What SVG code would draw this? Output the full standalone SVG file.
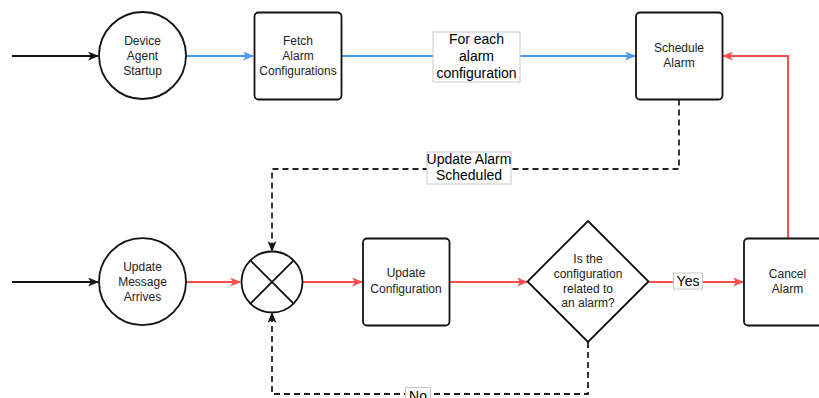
<svg xmlns="http://www.w3.org/2000/svg" width="819" height="398" viewBox="0 0 819 398">
<style>
.node{fill:#fff;stroke:#111;stroke-width:1.8}
.nt{font-family:"Liberation Sans",Arial,sans-serif;font-size:12px;fill:#222;text-anchor:middle}
.lt{font-family:"Liberation Sans",Arial,sans-serif;font-size:14px;fill:#000;text-anchor:middle}
.lb{fill:#fff;stroke:#c8c8c8;stroke-width:1}
.blk{fill:none;stroke:#111;stroke-width:1.8}
.blue{fill:none;stroke:#4499f0;stroke-width:2}
.red{fill:none;stroke:#ff4d4d;stroke-width:2}
.dash{fill:none;stroke:#222;stroke-width:1.8;stroke-dasharray:6 4}
</style>
<defs>
<marker id="aK" markerWidth="11" markerHeight="9" refX="10" refY="4.5" orient="auto" markerUnits="userSpaceOnUse"><path d="M0,0 L11,4.5 L0,9 L3,4.5 z" fill="#111"/></marker>
<marker id="aB" markerWidth="11" markerHeight="9" refX="10" refY="4.5" orient="auto" markerUnits="userSpaceOnUse"><path d="M0,0 L11,4.5 L0,9 L3,4.5 z" fill="#4499f0"/></marker>
<marker id="aR" markerWidth="11" markerHeight="9" refX="10" refY="4.5" orient="auto" markerUnits="userSpaceOnUse"><path d="M0,0 L11,4.5 L0,9 L3,4.5 z" fill="#ff4d4d"/></marker>
</defs>
<g id="connectors">
<path class="blk" d="M12,56 L98,56" marker-end="url(#aK)"/>
<path class="blue" d="M186,56 L253,56" marker-end="url(#aB)"/>
<path class="blue" d="M342,56 L635,56" marker-end="url(#aB)"/>
<path class="red" d="M788,238 L788,56 L723,56" marker-end="url(#aR)"/>
<path class="dash" d="M679,99.5 L679,169 L272,169 L272,251" marker-end="url(#aK)"/>
<path class="blk" d="M12,282 L98,282" marker-end="url(#aK)"/>
<path class="red" d="M186,282 L240,282" marker-end="url(#aR)"/>
<path class="red" d="M302.5,282 L362,282" marker-end="url(#aR)"/>
<path class="red" d="M449.5,282 L527,282" marker-end="url(#aR)"/>
<path class="red" d="M648.5,282 L743,282" marker-end="url(#aR)"/>
<path class="dash" d="M588,342 L588,394 L272,394 L272,313" marker-end="url(#aK)"/>
<rect class="lb" x="433" y="32" width="87" height="50"/>
<text class="lt" x="476.5" y="44">For each</text>
<text class="lt" x="476.5" y="61">alarm</text>
<text class="lt" x="476.5" y="78">configuration</text>
<rect class="lb" x="427" y="152" width="84" height="32"/>
<text class="lt" x="469" y="164">Update Alarm</text>
<text class="lt" x="469" y="180">Scheduled</text>
<rect class="lb" x="673.5" y="273" width="29" height="16"/>
<text class="lt" x="688" y="286">Yes</text>
<rect class="lb" x="405.5" y="387.5" width="25" height="16"/>
<text class="lt" x="418" y="401">No</text>
</g>
<g id="device-agent-startup">
<circle class="node" cx="142.5" cy="55.5" r="43.5"/>
<text class="nt" x="142.5" y="45">Device</text>
<text class="nt" x="142.5" y="60">Agent</text>
<text class="nt" x="142.5" y="75">Startup</text>
</g>
<g id="fetch-alarm-configurations">
<rect class="node" x="254.5" y="12.5" width="87" height="87" rx="4"/>
<text class="nt" x="298" y="45">Fetch</text>
<text class="nt" x="298" y="60">Alarm</text>
<text class="nt" x="298" y="75">Configurations</text>
</g>
<g id="schedule-alarm">
<rect class="node" x="636" y="12.5" width="86.5" height="87" rx="4"/>
<text class="nt" x="679" y="51.5">Schedule</text>
<text class="nt" x="679" y="66.5">Alarm</text>
</g>
<g id="update-message-arrives">
<circle class="node" cx="142.5" cy="281.7" r="43.5"/>
<text class="nt" x="142.5" y="271">Update</text>
<text class="nt" x="142.5" y="286">Message</text>
<text class="nt" x="142.5" y="301">Arrives</text>
</g>
<g id="merge">
<circle class="node" cx="272" cy="282" r="30.5"/>
<path class="blk" d="M250.4,260.4 L293.6,303.6 M293.6,260.4 L250.4,303.6"/>
</g>
<g id="update-configuration">
<rect class="node" x="363" y="238.5" width="86.5" height="87" rx="4"/>
<text class="nt" x="406" y="277">Update</text>
<text class="nt" x="406" y="292.5">Configuration</text>
</g>
<g id="decision">
<path class="node" d="M588,221 L648.5,281.5 L588,342 L527.5,281.5 Z"/>
<text class="nt" x="588" y="263">Is the</text>
<text class="nt" x="588" y="278">configuration</text>
<text class="nt" x="588" y="292.5">related to</text>
<text class="nt" x="588" y="306.5">an alarm?</text>
</g>
<g id="cancel-alarm">
<rect class="node" x="744" y="238.5" width="87" height="87" rx="4"/>
<text class="nt" x="787.5" y="277.5">Cancel</text>
<text class="nt" x="787.5" y="292.5">Alarm</text>
</g>
</svg>
